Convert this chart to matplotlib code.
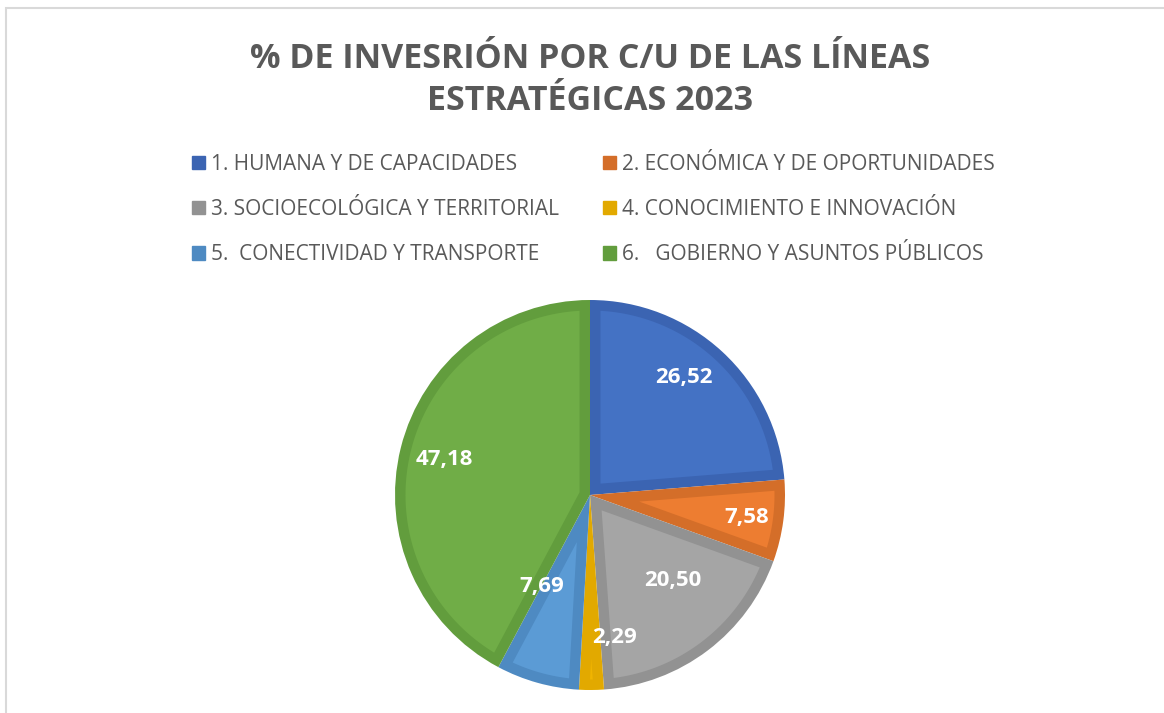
import matplotlib
matplotlib.use("Agg")
import matplotlib.pyplot as plt
from matplotlib.patches import Rectangle, Patch, Polygon
import numpy as np

categories = [
    "1. HUMANA Y DE CAPACIDADES",
    "2. ECONÓMICA Y DE OPORTUNIDADES",
    "3. SOCIOECOLÓGICA Y TERRITORIAL",
    "4. CONOCIMIENTO E INNOVACIÓN",
    "5.  CONECTIVIDAD Y TRANSPORTE",
    "6.   GOBIERNO Y ASUNTOS PÚBLICOS",
]
values = [26.52, 7.58, 20.50, 2.29, 7.69, 47.18]
title = "% DE INVESRIÓN POR C/U DE LAS LÍNEAS\nESTRATÉGICAS 2023"

colors = ["#4472C4", "#ED7D31", "#A5A5A5", "#F0B400", "#5B9BD5", "#70AD47"]
edge_colors = ["#3B64B2", "#D46E29", "#929292", "#E2A900", "#4E8AC2", "#629D3D"]
# label placement (fraction of radius, angle nudge in degrees)
label_r = [0.77, 0.81, 0.61, 0.74, 0.53, 0.77]
label_da = [4, -0.5, 7, 9.5, -12, 0.5]

W, H = 1164, 713
fig = plt.figure(figsize=(W / 100, H / 100), dpi=100)
fig.patch.set_facecolor("white")

# chart area border
fig.patches.append(Rectangle((6 / W, -0.1), 2, (H - 8) / H + 0.1, transform=fig.transFigure,
                             fill=False, edgecolor="#D9D9D9", linewidth=1.5))

fig.text(590 / W, 1 - 80 / H, title, ha="center", va="center", fontsize=24.5,
         fontweight="bold", color="#595959", family=["Open Sans", "DejaVu Sans"],
         linespacing=1.31)

cx, cy, R = 590, 495, 195
ax = fig.add_axes([(cx - R) / W, (H - cy - R) / H, 2 * R / W, 2 * R / H])
wedges, _ = ax.pie(values, colors=edge_colors, startangle=90, counterclock=False,
                   radius=1, wedgeprops=dict(linewidth=0))
ax.set_xlim(-1, 1)
ax.set_ylim(-1, 1)
ax.set_aspect("equal")
ax.axis("off")

# inner (lighter) fill of each wedge, inset from the wedge border
d = 10.5 / R
for w, fc in zip(wedges, colors):
    t1, t2 = np.deg2rad(w.theta1), np.deg2rad(w.theta2)
    r = w.r
    s = t2 - t1
    m = (t1 + t2) / 2
    if s >= np.pi:
        continue
    pd = d / np.sin(s / 2)
    if pd >= r - d:
        continue
    p = pd * np.array([np.cos(m), np.sin(m)])
    pts = [p]
    qs = []
    for t in (t1, t2):
        u = np.array([np.cos(t), np.sin(t)])
        b = p @ u
        tt = -b + np.sqrt(b * b - p @ p + (r - d) ** 2)
        qs.append(p + tt * u)
    f1 = np.arctan2(qs[0][1], qs[0][0])
    f2 = np.arctan2(qs[1][1], qs[1][0])
    while f2 < f1:
        f2 += 2 * np.pi
    arc = np.linspace(f1, f2, 200)
    pts += [np.array([(r - d) * np.cos(a), (r - d) * np.sin(a)]) for a in arc]
    ax.add_patch(Polygon(np.array(pts), closed=True, facecolor=fc, edgecolor="none"))

for w, v, rr, da in zip(wedges, values, label_r, label_da):
    ang = np.deg2rad((w.theta1 + w.theta2) / 2 + da)
    ax.text(rr * np.cos(ang), rr * np.sin(ang), f"{v:.2f}".replace(".", ","),
            ha="center", va="center", color="white", fontsize=16, fontweight="bold",
            family=["Open Sans", "DejaVu Sans"], clip_on=False, zorder=5)

handles = [Patch(facecolor=c, edgecolor=c) for c in edge_colors]
lfont = dict(family=["Open Sans", "DejaVu Sans"], size=15)
for col, x0 in ((0, 192), (1, 603)):
    idx = [col, col + 2, col + 4]
    leg = fig.legend([handles[i] for i in idx], [categories[i] for i in idx],
                     loc="upper left", bbox_to_anchor=(x0 / W, 1 - 154 / H),
                     frameon=False, borderpad=0, borderaxespad=0,
                     handlelength=0.6, handleheight=0.6, handletextpad=0.3,
                     labelspacing=1.16, prop=lfont)
    for t in leg.get_texts():
        t.set_color("#595959")

fig.savefig("out.png", dpi=100)
